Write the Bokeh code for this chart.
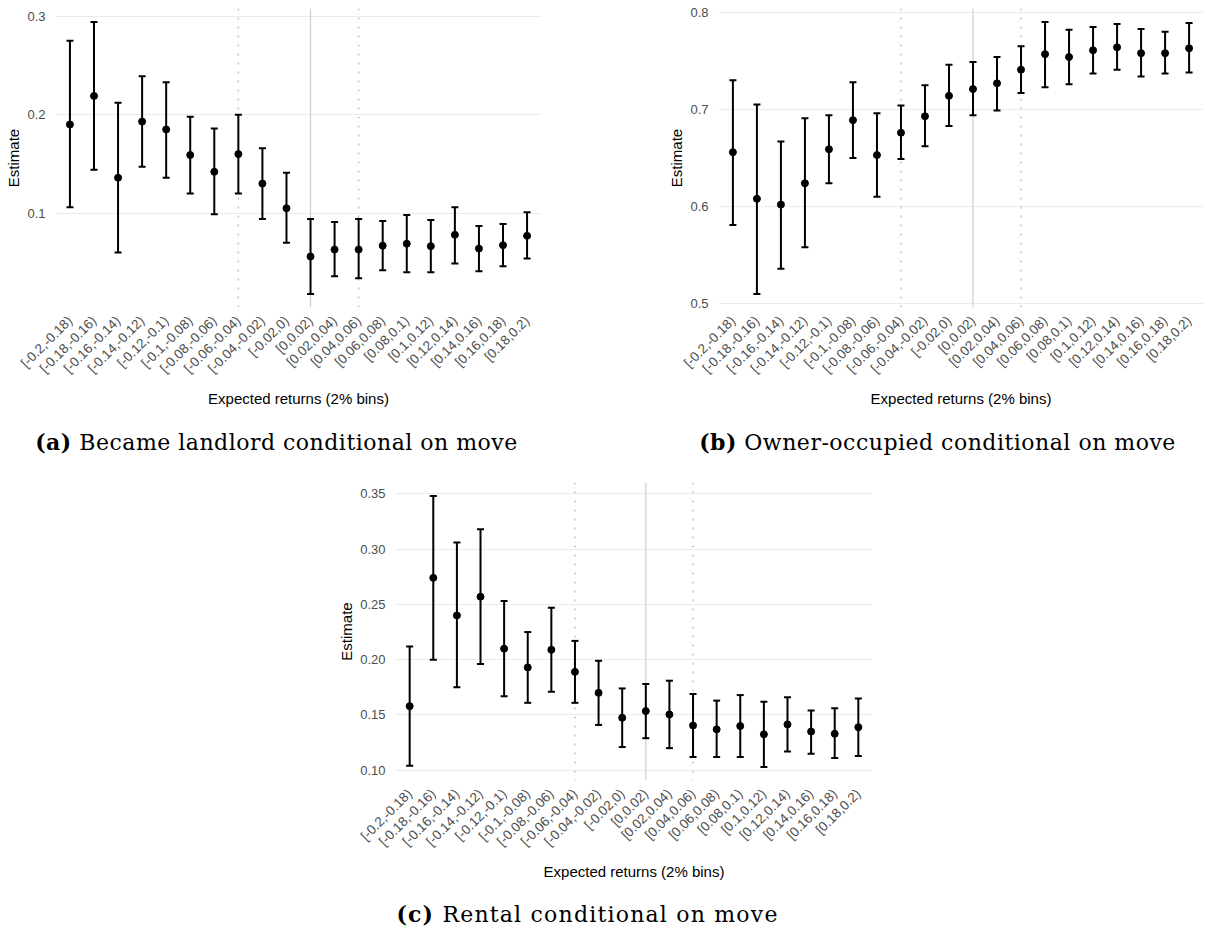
import math

from bokeh.embed import file_html
from bokeh.layouts import column, row
from bokeh.models import (ColumnDataSource, Div, FactorRange, FixedTicker,
                          Range1d, Spacer, Span, TeeHead, Whisker, CustomJSTickFormatter)
from bokeh.plotting import figure
from bokeh.resources import INLINE

# 2% expected-return bins
bins = ["[-0.2,-0.18)", "[-0.18,-0.16)", "[-0.16,-0.14)", "[-0.14,-0.12)",
        "[-0.12,-0.1)", "[-0.1,-0.08)", "[-0.08,-0.06)", "[-0.06,-0.04)",
        "[-0.04,-0.02)", "[-0.02,0)", "[0,0.02)", "[0.02,0.04)",
        "[0.04,0.06)", "[0.06,0.08)", "[0.08,0.1)", "[0.1,0.12)",
        "[0.12,0.14)", "[0.14,0.16)", "[0.16,0.18)", "[0.18,0.2)"]

# reference bins for the vertical guide lines
solid_bin = "[0,0.02)"
dotted_bins = ["[-0.06,-0.04)", "[0.04,0.06)"]

# (a) became landlord conditional on move
landlord_est = [0.190, 0.219, 0.136, 0.193, 0.185, 0.159, 0.142, 0.160, 0.130, 0.105,
                0.056, 0.063, 0.063, 0.067, 0.069, 0.0665, 0.078, 0.064, 0.0675, 0.077]
landlord_lo = [0.106, 0.144, 0.060, 0.147, 0.136, 0.120, 0.099, 0.120, 0.094, 0.070,
               0.018, 0.036, 0.034, 0.042, 0.040, 0.040, 0.049, 0.041, 0.046, 0.054]
landlord_hi = [0.275, 0.294, 0.212, 0.239, 0.233, 0.198, 0.186, 0.200, 0.166, 0.141,
               0.094, 0.091, 0.094, 0.092, 0.098, 0.093, 0.106, 0.087, 0.089, 0.101]
landlord_ticks = [0.1, 0.2, 0.3]

# (b) owner-occupied conditional on move
owner_est = [0.656, 0.608, 0.602, 0.624, 0.659, 0.689, 0.653, 0.676, 0.693, 0.714,
             0.721, 0.727, 0.741, 0.757, 0.754, 0.761, 0.764, 0.758, 0.758, 0.763]
owner_lo = [0.581, 0.510, 0.536, 0.558, 0.624, 0.650, 0.610, 0.649, 0.662, 0.683,
            0.694, 0.699, 0.717, 0.723, 0.726, 0.737, 0.741, 0.734, 0.737, 0.738]
owner_hi = [0.730, 0.705, 0.667, 0.691, 0.694, 0.728, 0.696, 0.704, 0.725, 0.746,
            0.749, 0.754, 0.765, 0.790, 0.782, 0.785, 0.788, 0.783, 0.780, 0.789]
owner_ticks = [0.5, 0.6, 0.7, 0.8]

# (c) rental conditional on move
rental_est = [0.158, 0.274, 0.240, 0.257, 0.210, 0.193, 0.209, 0.189, 0.170, 0.1475,
              0.1535, 0.1505, 0.1405, 0.137, 0.140, 0.1325, 0.1415, 0.135, 0.133, 0.139]
rental_lo = [0.104, 0.200, 0.175, 0.196, 0.167, 0.161, 0.171, 0.161, 0.141, 0.121,
             0.129, 0.120, 0.112, 0.112, 0.112, 0.103, 0.117, 0.115, 0.111, 0.113]
rental_hi = [0.212, 0.348, 0.306, 0.318, 0.253, 0.225, 0.247, 0.217, 0.199, 0.174,
             0.178, 0.181, 0.169, 0.163, 0.168, 0.162, 0.166, 0.154, 0.156, 0.165]
rental_ticks = [0.10, 0.15, 0.20, 0.25, 0.30, 0.35]

SANS = "Liberation Sans"
SERIF = "DejaVu Serif"


def panel(est, lo, hi, ticks, decimals, width, height, borders):
    left, right, top, bottom = borders
    span = max(hi) - min(lo)
    yr = Range1d(min(lo) - 0.05 * span, max(hi) + 0.05 * span)
    # 0.6 category widths of room beyond the first and last category centres
    xr = FactorRange(factors=bins, range_padding=0.1, range_padding_units="absolute")

    p = figure(x_range=xr, y_range=yr, width=width, height=height,
               output_backend="svg", toolbar_location=None,
               min_border_left=left, min_border_right=right,
               min_border_top=top, min_border_bottom=bottom)
    p.outline_line_color = None
    p.background_fill_color = "white"
    p.border_fill_color = "white"

    # guide lines, kept beneath the estimates
    for b in dotted_bins:
        p.add_layout(Span(location=bins.index(b) + 0.5, dimension="height",
                          line_color="#c8c8c8", line_width=1.6, line_dash="2 7",
                          level="underlay"))
    p.add_layout(Span(location=bins.index(solid_bin) + 0.5, dimension="height",
                      line_color="#cfcfcf", line_width=1.2, level="underlay"))

    src = ColumnDataSource(dict(bin=bins, est=est, lo=lo, hi=hi))
    p.add_layout(Whisker(source=src, base="bin", lower="lo", upper="hi",
                         dimension="height", line_color="black", line_width=2,
                         lower_head=TeeHead(size=7, line_color="black", line_width=2),
                         upper_head=TeeHead(size=7, line_color="black", line_width=2)))
    p.scatter("bin", "est", source=src, size=7, color="black")

    # y axis
    p.yaxis.ticker = FixedTicker(ticks=ticks)
    p.yaxis.formatter = CustomJSTickFormatter(
        code=f"return tick.toFixed({decimals});")
    p.yaxis.axis_label = "Estimate"
    p.yaxis.axis_label_text_font = SANS
    p.yaxis.axis_label_text_font_style = "normal"
    p.yaxis.axis_label_text_font_size = "15px"
    p.yaxis.axis_label_text_color = "black"
    p.yaxis.axis_label_standoff = 2
    p.yaxis.major_label_text_font = SANS
    p.yaxis.major_label_text_font_size = "13px"
    p.yaxis.major_label_text_color = "#4d4d4d"
    p.yaxis.major_label_standoff = 4

    # x axis
    p.xaxis.axis_label = "Expected returns (2% bins)"
    p.xaxis.axis_label_text_font = SANS
    p.xaxis.axis_label_text_font_style = "normal"
    p.xaxis.axis_label_text_font_size = "15px"
    p.xaxis.axis_label_text_color = "black"
    p.xaxis.axis_label_standoff = 6
    p.xaxis.major_label_orientation = math.pi / 4
    p.xaxis.major_label_text_font = SANS
    p.xaxis.major_label_text_font_size = "13.5px"
    p.xaxis.major_label_text_color = "#4d4d4d"
    p.xaxis.major_label_standoff = 5

    for ax in (p.xaxis, p.yaxis):
        ax.axis_line_color = None
        ax.major_tick_line_color = None
        ax.minor_tick_line_color = None

    p.xgrid.grid_line_color = None
    p.ygrid.grid_line_color = "#ebebeb"
    p.ygrid.grid_line_width = 1.2
    p.ygrid.minor_grid_line_color = None
    return p


def caption(tag, text, width, height, pad_top, spacing):
    html = (f'<div style="font-family:\'{SERIF}\';font-size:22px;color:#000;'
            f'text-align:center;letter-spacing:{spacing}px;white-space:nowrap;'
            f'padding-top:{pad_top}px;width:{width}px">'
            f'<b>({tag})</b> {text}</div>')
    return Div(text=html, width=width, height=height, margin=0)


pa = panel(landlord_est, landlord_lo, landlord_hi, landlord_ticks, 1,
           560, 417, (55, 19, 8, 110))
pb = panel(owner_est, owner_lo, owner_hi, owner_ticks, 1,
           567, 417, (78, 4, 8, 110))
pc = panel(rental_est, rental_lo, rental_hi, rental_ticks, 2,
           560, 430, (65, 18, 22, 110))

col_a = column(pa, caption("a", "Became landlord conditional on move", 553, 43, 10, 0.5),
               spacing=0, margin=0)
col_b = column(pb, row(Spacer(width=28, height=43),
                       caption("b", "Owner-occupied conditional on move", 539, 43, 10, 0.5),
                       spacing=0, margin=0),
               spacing=0, margin=0)
top_row = row(col_a, Spacer(width=80, height=460), col_b, spacing=0, margin=0)

col_c = column(pc, caption("c", "Rental conditional on move", 515, 39, 9, 1.2),
               spacing=0, margin=0)
bottom_row = row(Spacer(width=330, height=469), col_c, spacing=0, margin=0)

page = column(top_row, bottom_row, spacing=0, margin=0)

open("out.html", "w").write(file_html(page, INLINE))
